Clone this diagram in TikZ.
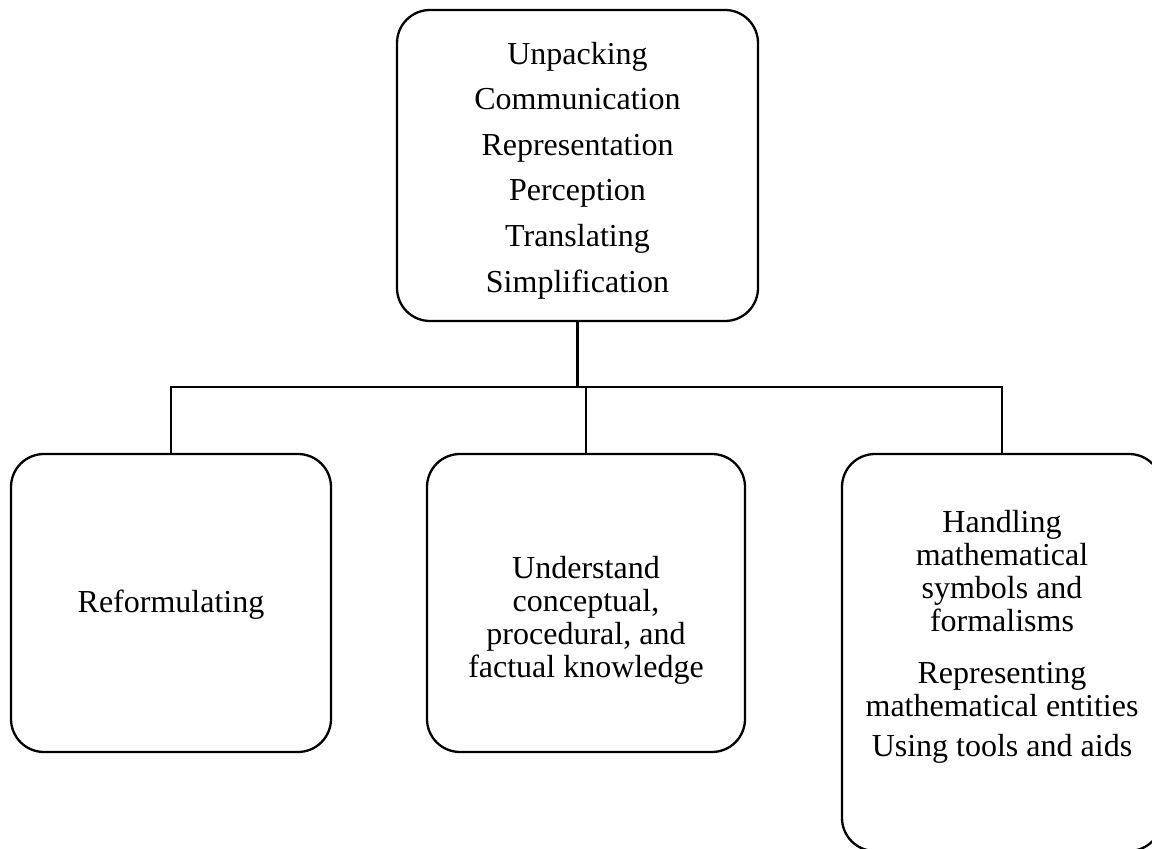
\documentclass[tikz,border=0pt]{standalone}
\usepackage{fontspec}
\setmainfont{Liberation Serif}
\usepackage{tikz}
\usetikzlibrary{positioning}

\tikzset{
    skillbox/.style={draw, line width=2.3pt, rounded corners=33pt},
    skilltext/.style={align=center, font=\fontsize{32}{33}\selectfont},
    joint/.style={line width=2.3pt}
}

\begin{document}
\begin{tikzpicture}[x=1pt, y=1pt]
        \useasboundingbox (0,0) rectangle (1152,849);
        \node[skillbox, minimum width=361pt, minimum height=311pt] (main) at (577.5,683.5) {};
        \node[skilltext] (maintext) at ([yshift=-5pt]main.center)
            {Unpacking\\[12.6pt] Communication\\[12.6pt] Representation\\[12.6pt] Perception\\[12.6pt] Translating\\[12.6pt] Simplification};
        \node[skillbox, minimum width=320pt, minimum height=298pt] (reform) at (171,246) {};
        \node[skilltext] (reformtext) at ([yshift=-2pt]reform.center) {Reformulating};
        \node[skillbox, minimum width=318pt, minimum height=298pt] (know) at (586,246) {};
        \node[skilltext] (knowtext) at ([yshift=-17pt]know.center)
            {Understand\\ conceptual,\\ procedural, and\\ factual knowledge};
        \node[skillbox, minimum width=320pt, minimum height=397pt] (tools) at (1002,196.5) {};
        \node[skilltext] (toolstext) at ([yshift=16pt]tools.center)
            {Handling\\ mathematical\\ symbols and\\ formalisms\\[19pt] Representing\\ mathematical entities\\[7pt] Using tools and aids};
        % tree lines
        \coordinate (bus) at (577.5,462);
        \draw[joint] (main.south) -- (main.south |- bus);
        \draw[joint] (reform.north) -- (reform.north |- bus) -- (tools.north |- bus) -- (tools.north);
        \draw[joint] (know.north) -- (know.north |- bus);
\end{tikzpicture}
\end{document}
